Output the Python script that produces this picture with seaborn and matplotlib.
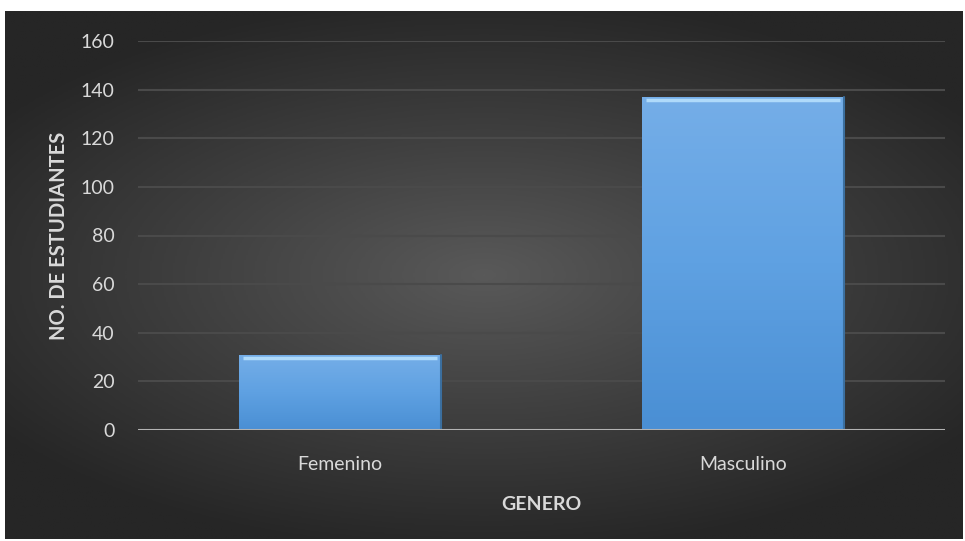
import numpy as np
import pandas as pd
import seaborn as sns
import matplotlib.pyplot as plt
from matplotlib.colors import LinearSegmentedColormap

# data
generos = ["Femenino", "Masculino"]
estudiantes = [31, 137]
y_ticks = [0, 20, 40, 60, 80, 100, 120, 140, 160]

sns.set_theme(style="dark")
plt.rcParams['font.family'] = ['Lato', 'DejaVu Sans']

W, H = 965, 541
fig = plt.figure(figsize=(W / 100, H / 100), dpi=100, facecolor="white")

# radial dark background panel
bg = fig.add_axes([5 / W, 2 / H, 958 / W, 528 / H])
yy, xx = np.mgrid[-1:1:300j, -1:1:500j]
r = np.sqrt((xx / 1.0) ** 2 + (yy / 0.85) ** 2)
bgcmap = LinearSegmentedColormap.from_list("bg", ["#595959", "#3f3f3f", "#262626"])
bg.imshow(np.clip(r / 1.25, 0, 1), cmap=bgcmap, aspect="auto", vmin=0, vmax=1)
bg.set_axis_off()

ax = fig.add_axes([138 / W, (H - 430) / H, (945 - 138) / W, (430 - 41) / H])
ax.patch.set_alpha(0)

df = pd.DataFrame({"genero": generos, "n": estudiantes})
sns.barplot(data=df, x="genero", y="n", color="#5b9bd5", width=0.5,
            saturation=1, ax=ax, zorder=3)

# gradient fill + bevel highlight on each bar
grad = LinearSegmentedColormap.from_list("bar", ["#4a8fd4", "#5fa1e2", "#75aee8"])
for p in ax.patches:
    x0, y0 = p.get_x(), p.get_y()
    w, h = p.get_width(), p.get_height()
    im = ax.imshow(np.linspace(0, 1, 100).reshape(-1, 1), cmap=grad, aspect="auto",
                   extent=[x0, x0 + w, y0, y0 + h], origin="lower", zorder=3.5)
    im.set_clip_path(p)
    ax.plot([x0 + 0.01, x0 + w - 0.01], [y0 + h - 1.2, y0 + h - 1.2],
            color="#bfe6ff", lw=2.5, alpha=0.8, zorder=4, solid_capstyle="butt")
    ax.plot([x0 + w, x0 + w], [y0, y0 + h], color="#3b6f9f", lw=1.5, zorder=4)
    p.set_edgecolor("none")

ax.set_xlim(-0.5, 1.5)
ax.set_ylim(0, 160)
ax.set_yticks(y_ticks)
ax.grid(axis="y", color="#4a4a4a", lw=1.5, zorder=0)
ax.grid(axis="x", visible=False)
ax.axhline(0, color="#b3b3b3", lw=2.2, zorder=5)
for s in ax.spines.values():
    s.set_visible(False)

ax.tick_params(axis="both", length=0, labelsize=14, labelcolor="#d9d9d9")
ax.tick_params(axis="y", pad=17)
ax.tick_params(axis="x", pad=19)
ax.set_xlabel("GENERO", fontsize=14, fontweight="bold", color="#d9d9d9", labelpad=16)
ax.set_ylabel("NO. DE ESTUDIANTES", fontsize=14.5, fontweight="bold", color="#d9d9d9", labelpad=8)

fig.savefig("out.png", dpi=100, facecolor="white")
